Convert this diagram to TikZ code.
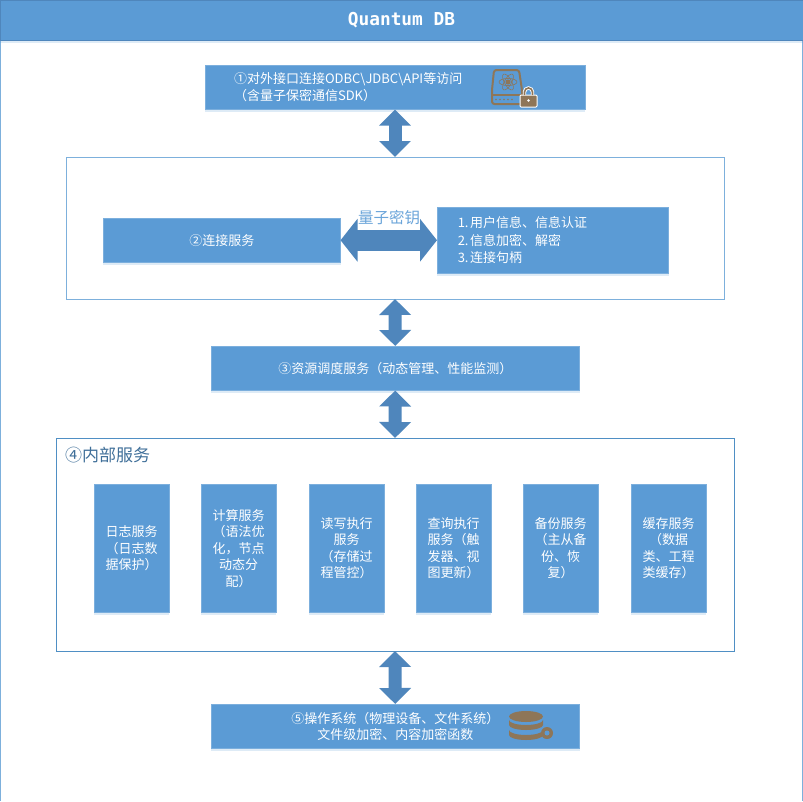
\documentclass[tikz,border=0pt]{standalone}
\usepackage{fontspec}
\setmainfont{Noto Sans CJK SC}
\newfontfamily\titlefont{DejaVu Sans Mono}
\usetikzlibrary{arrows.meta,shadows}
\definecolor{boxblue}{HTML}{5B9BD5}
\definecolor{arrowblue}{HTML}{4F86BC}
\definecolor{frameblue}{HTML}{7DB0DC}
\definecolor{darkframe}{HTML}{4F8FC4}
\definecolor{iconbrown}{HTML}{8E7658}
\definecolor{labelblue}{HTML}{6BA5DA}
\definecolor{headblue}{HTML}{3F6F99}

\begin{document}
\begin{tikzpicture}[x=1pt,y=-1pt,
  every node/.style={inner sep=0pt,outer sep=0pt,font=\fontsize{13}{16.5}\selectfont},
  bluebox/.style={fill=boxblue,draw=boxblue!80!white,line width=0.5pt,text=white,align=center,anchor=north west,
    drop shadow={shadow xshift=0pt,shadow yshift=-2.5pt,fill=boxblue,opacity=0.2}},
  framebox/.style={draw=frameblue,line width=1pt,fill=white,anchor=north west},
  fatarrow/.style={arrowblue,line width=13pt,{Triangle[length=16pt,width=31pt]}-{Triangle[length=16pt,width=31pt]}},
  sidearrow/.style={arrowblue,line width=21pt,{Triangle[length=17pt,width=42pt]}-{Triangle[length=17pt,width=42pt]}},
  icon/.style={iconbrown,line width=2pt}
]
\useasboundingbox (0,0) rectangle (803,801);
\fill[white] (0,0) rectangle (803,801);
\draw[frameblue,line width=1pt] (0.5,40) -- (0.5,801) (802.5,40) -- (802.5,801);

% title
\node[bluebox,draw=arrowblue,minimum width=803pt,minimum height=40pt,font=\titlefont\bfseries\fontsize{17.8}{20}\selectfont] (title) at (0,0) {Quantum DB};

% frames
\node[framebox,minimum width=658pt,minimum height=142pt] (connframe) at (66,157) {};
\node[framebox,draw=darkframe,minimum width=678pt,minimum height=213pt] (innerframe) at (56,438) {};

% layers
\node[bluebox,minimum width=380pt,minimum height=44.5pt,text width=322pt,inner xsep=29pt,align=left] (access) at (205,65)
  {①对外接口连接ODBC\textbackslash JDBC\textbackslash API等访问\\（含量子保密通信SDK）};
\node[bluebox,minimum width=237.5pt,minimum height=44.5pt] (conn) at (103,218) {②连接服务};
\node[bluebox,minimum width=231.5pt,minimum height=66.5pt,text width=190pt,inner xsep=20.75pt,align=left,font=\fontsize{13}{17.5}\selectfont] (connlist) at (437,207)
  {1.\hspace{1.5pt}用户信息、信息认证\\2.\hspace{1.5pt}信息加密、解密\\3.\hspace{1.5pt}连接句柄};
\node[bluebox,minimum width=368.5pt,minimum height=44.5pt] (sched) at (211,346) {③资源调度服务（动态管理、性能监测）};
\node[bluebox,minimum width=368.5pt,minimum height=44.5pt] (os) at (211,704) {⑤操作系统（物理设备、文件系统）\\文件级加密、内容加密函数};

\node[text=headblue,font=\fontsize{17}{20}\selectfont,anchor=west] (innerhead) at (65,455) {④内部服务};

% inner services
\foreach \name/\xpos/\txt in {
  logsvc/94/日志服务\\（日志数\\据保护）,
  calcsvc/201/计算服务\\（语法优\\化，节点\\动态分\\配）,
  rwsvc/309/读写执行\\服务\\（存储过\\程管控）,
  querysvc/416/查询执行\\服务（触\\发器、视\\图更新）,
  backupsvc/523/备份服务\\（主从备\\份、恢\\复）,
  cachesvc/631/缓存服务\\（数据\\类、工程\\类缓存）}
  \node[bluebox,minimum width=75pt,minimum height=128.5pt] (\name) at (\xpos,484) {\txt};

% arrows
\draw[fatarrow] (access.south) -- (connframe.north);
\draw[fatarrow] (connframe.south) -- (sched.north);
\draw[fatarrow] (sched.south) -- (innerframe.north);
\draw[fatarrow] (innerframe.south) -- (os.north);
\draw[sidearrow] (conn.east) -- (connlist.west |- conn.east);
\node[text=labelblue,font=\fontsize{15.5}{18}\selectfont] (qkey) at (389,218) {量子密钥};

% disk icon
\draw[icon,rounded corners=2.5pt] (494,70) -- (519,70) -- (522,90) -- (522,104) -- (492,104) -- (492,90) -- cycle;
\draw[icon,line width=1.6pt] (492,95) -- (522,95);
\foreach \xpos in {496,500,504,508,512}
  \fill[iconbrown] (\xpos,99.5) circle (0.8pt);
\fill[iconbrown] (508,82) circle (2.5pt);
\foreach \ang in {0,60,120}
  \draw[iconbrown,line width=0.6pt,rotate around={\ang:(508,82)}] (508,82) ellipse (9pt and 3.5pt);
\fill[iconbrown,draw=white,line width=1pt,rounded corners=1pt] (520,95) rectangle (537,107);
\draw[white,line width=3.4pt] (524.5,95) -- (524.5,92) arc (180:0:4pt) -- (532.5,95);
\draw[iconbrown,line width=1.6pt] (524.5,95) -- (524.5,92) arc (180:0:4pt) -- (532.5,95);
\fill[white] (528.5,100.5) circle (1.3pt);

% database icon
\fill[iconbrown] (509,716.5) arc (180:360:17pt and 5.5pt) arc (0:180:17pt and 5.5pt);
\fill[iconbrown] (509,720) arc (180:360:17pt and 5pt) -- (543,725) arc (0:-180:17pt and 5pt) -- cycle;
\fill[iconbrown] (509,730) arc (180:360:17pt and 5pt) -- (543,735) arc (0:-180:17pt and 5pt) -- cycle;
\fill[iconbrown] (547,733) circle (6pt);
\fill[boxblue] (547,733) circle (2.5pt);
\end{tikzpicture}
\end{document}
